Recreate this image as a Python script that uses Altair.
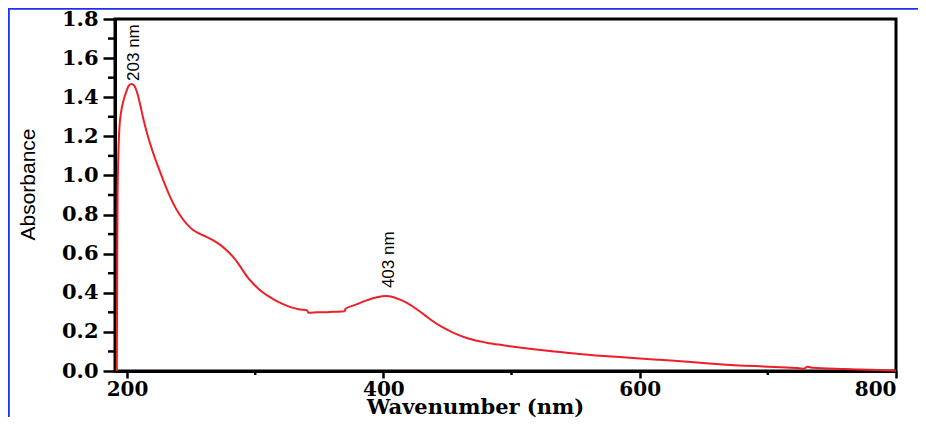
import altair as alt
import pandas as pd

# Spectrum
wavelength = [192.0, 192.3, 192.6, 193.2, 194.0, 195.5, 197.1, 199.5, 201.5, 203.5,
              205.5, 208.0, 210.5, 212.7, 216.5, 220.5, 224.5, 228.3, 232.0, 236.1,
              241.0, 246.5, 251.5, 256.9, 262.0, 267.3, 272.5, 277.7, 282.9, 286.5,
              290.0, 294.0, 298.5, 306.0, 314.0, 320.0, 327.0, 334.0, 340.6, 341.4,
              348.0, 355.7, 363.0, 369.5, 370.5, 378.0, 386.9, 395.0, 402.5, 408.0,
              413.0, 419.0, 426.0, 432.0, 439.0, 445.0, 452.0, 458.0, 465.0, 472.0,
              480.5, 490.0, 498.6, 514.0, 529.8, 550.0, 568.8, 584.4, 600.0, 615.6,
              640.0, 662.4, 690.0, 710.0, 724.8, 728.0, 731.0, 735.0, 760.0, 780.0,
              797.5, 800.0]
absorbance = [0.000, 0.500, 0.900, 1.100, 1.240, 1.330, 1.380, 1.430, 1.460, 1.468,
              1.460, 1.420, 1.355, 1.290, 1.195, 1.112, 1.040, 0.975, 0.915, 0.856,
              0.800, 0.752, 0.721, 0.701, 0.686, 0.668, 0.646, 0.617, 0.582, 0.552,
              0.518, 0.480, 0.446, 0.401, 0.368, 0.347, 0.328, 0.316, 0.310, 0.298,
              0.300, 0.301, 0.303, 0.305, 0.318, 0.338, 0.361, 0.377, 0.383, 0.377,
              0.365, 0.346, 0.316, 0.287, 0.253, 0.228, 0.204, 0.186, 0.169, 0.156,
              0.145, 0.135, 0.127, 0.114, 0.102, 0.089, 0.078, 0.071, 0.064, 0.057,
              0.046, 0.035, 0.025, 0.019, 0.014, 0.012, 0.022, 0.016, 0.010, 0.006,
              0.002, 0.001]

peak_wavelength = [203.5, 402.5]
peak_absorbance = [1.468, 0.383]
peak_labels = ["203 nm", "403 nm"]

x_major = [200, 400, 600, 800]
x_minor = [300, 500, 700]
y_major = [0.0, 0.2, 0.4, 0.6, 0.8, 1.0, 1.2, 1.4, 1.6, 1.8]
y_minor = [0.1, 0.3, 0.5, 0.7, 0.9, 1.1, 1.3, 1.5, 1.7]

df = pd.DataFrame({"wl": wavelength, "abs": absorbance})
peaks = pd.DataFrame({"wl": peak_wavelength, "abs": peak_absorbance, "label": peak_labels})
xminor_df = pd.DataFrame({"wl": x_minor})
yminor_df = pd.DataFrame({"abs": y_minor})

X_DOMAIN = [190.6, 800]
Y_DOMAIN = [0, 1.8]


def xs():
    return alt.Scale(domain=X_DOMAIN, nice=False, zero=False)


def ys():
    return alt.Scale(domain=Y_DOMAIN, nice=False, zero=False)


serif = "DejaVu Serif"
sans = "Liberation Sans"

line = alt.Chart(df).mark_line(color="#ee1f26", strokeWidth=2, interpolate="monotone").encode(
    x=alt.X("wl:Q", scale=xs(),
            axis=alt.Axis(orient="bottom", values=x_major, format="d", tickSize=7, tickWidth=2.5,
                          labelFont=serif, labelFontWeight="bold", labelFontSize=20,
                          labelPadding=1, labelOverlap=False, labelBound=False,
                          title="Wavenumber (nm)", titleFont=serif,
                          titleFontWeight="bold", titleFontSize=21, titleX=360, titleY=42,
                          titleAlign="center", titleBaseline="alphabetic", grid=False,
                          domainWidth=3, domainColor="black", tickColor="black",
                          labelColor="black", titleColor="black")),
    y=alt.Y("abs:Q", scale=ys(),
            axis=alt.Axis(orient="left", values=y_major, format=".1f", tickSize=12, tickWidth=2.5,
                          labelFont=serif, labelFontWeight="bold", labelFontSize=21,
                          labelPadding=5, labelOverlap=False, labelBound=False,
                          title="Absorbance", titleFont=sans,
                          titleFontWeight="normal", titleFontSize=21, titleAngle=270,
                          titleX=-87, titleY=165, titleAlign="center", titleBaseline="middle",
                          grid=False, domainWidth=3, domainColor="black", tickColor="black",
                          labelColor="black", titleColor="black")),
)

x_minor_ticks = alt.Chart(xminor_df).mark_rule(color="black", strokeWidth=2.5).encode(
    x=alt.X("wl:Q", scale=xs(), axis=None), y=alt.value(352), y2=alt.value(356)
)
y_minor_ticks = alt.Chart(yminor_df).mark_rule(color="black", strokeWidth=2.5).encode(
    y=alt.Y("abs:Q", scale=ys(), axis=None), x=alt.value(-7), x2=alt.value(0)
)

label_203 = alt.Chart(peaks).transform_filter(alt.datum.label == "203 nm").mark_text(
    angle=270, align="left", baseline="middle", font=sans, fontSize=17, color="black",
    dx=3, dy=2
).encode(x=alt.X("wl:Q", scale=xs(), axis=None), y=alt.Y("abs:Q", scale=ys(), axis=None),
         text="label:N")

label_403 = alt.Chart(peaks).transform_filter(alt.datum.label == "403 nm").mark_text(
    angle=270, align="left", baseline="middle", font=sans, fontSize=17, color="black",
    dx=8, dy=2
).encode(x=alt.X("wl:Q", scale=xs(), axis=None), y=alt.Y("abs:Q", scale=ys(), axis=None),
         text="label:N")

border_top = alt.Chart(peaks).mark_rule(color="#2030ee", strokeWidth=1.5).encode(
    x=alt.value(-107), x2=alt.value(803), y=alt.value(-10.2)
)
border_left = alt.Chart(peaks).mark_rule(color="#2030ee", strokeWidth=1.5).encode(
    x=alt.value(-106.2), y=alt.value(-11), y2=alt.value(398)
)

chart = alt.layer(
    line, x_minor_ticks, y_minor_ticks, label_203, label_403, border_top, border_left
).resolve_scale(
    x="independent", y="independent"
).properties(
    width=781, height=352,
    autosize=alt.AutoSizeParams(type="none"),
    padding={"left": 107, "top": 11, "right": 22, "bottom": 46},
    background="white",
).configure_view(stroke="black", strokeWidth=3)

chart.save("out.html", embed_options={"renderer": "svg", "actions": False})
